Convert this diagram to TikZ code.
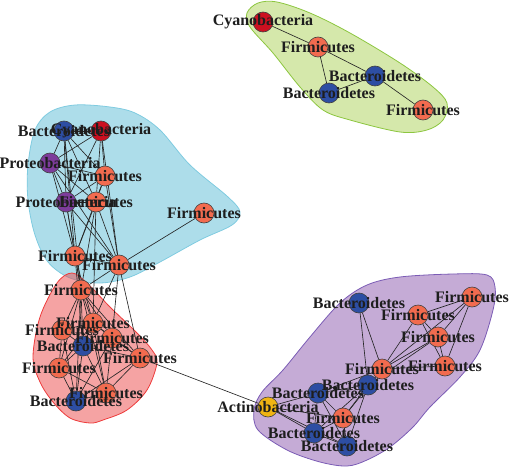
\documentclass[tikz,border=0pt]{standalone}
\usepackage{fontspec}
\setmainfont{Liberation Serif}
\pgfdeclarelayer{hulls}
\pgfdeclarelayer{edges}
\pgfdeclarelayer{labels}
\pgfsetlayers{hulls,edges,main,labels}
\definecolor{firmc}{HTML}{F26B4F}
\definecolor{bactc}{HTML}{2D4EA3}
\definecolor{cyanc}{HTML}{CC1020}
\definecolor{protc}{HTML}{7D3C9B}
\definecolor{actic}{HTML}{F0B413}
\definecolor{hgreen}{HTML}{ACD158}
\definecolor{hgreenb}{HTML}{8CC63F}
\definecolor{hblue}{HTML}{5BBCD6}
\definecolor{hblueb}{HTML}{7FCBE0}
\definecolor{hred}{HTML}{EB4848}
\definecolor{hredb}{HTML}{EE3B3B}
\definecolor{hpurp}{HTML}{8B58AE}
\definecolor{hpurpb}{HTML}{7B5CB5}
\definecolor{labc}{HTML}{1E1E1E}
\begin{document}
\begin{tikzpicture}[x=1pt,y=-1pt,
  vtx/.style={circle, draw=black!75, line width=0.6pt, minimum size=20pt, inner sep=0pt},
  firm/.style={vtx, fill=firmc},
  bact/.style={vtx, fill=bactc},
  cyan/.style={vtx, fill=cyanc},
  prot/.style={vtx, fill=protc},
  acti/.style={vtx, fill=actic},
  edge/.style={draw=black!85, line width=0.65pt},
  hull/.style={line width=0.8pt, fill opacity=0.5},
  lab/.style={font=\bfseries\fontsize{16}{16}\selectfont, text=labc, inner sep=0pt}]
\useasboundingbox (0,0) rectangle (510,468);
% green cluster
\node[cyan] (g1) at (263,22) {};
\node[firm] (g2) at (318,47) {};
\node[bact] (g3) at (375,76) {};
\node[bact] (g4) at (329,93) {};
\node[firm] (g5) at (423,110) {};
% blue cluster
\node[bact] (b1) at (64,131) {};
\node[cyan] (b2) at (101,131) {};
\node[prot] (b3) at (50,163) {};
\node[firm] (b4) at (105,176) {};
\node[prot] (b5) at (66,202) {};
\node[firm] (b6) at (96,202) {};
\node[firm] (b7) at (204,213) {};
\node[firm] (b8) at (75,256) {};
\node[firm] (b9) at (119,265) {};
% red cluster
\node[firm] (r1) at (81,290) {};
\node[firm] (r2) at (93,323) {};
\node[firm] (r3) at (62,330) {};
\node[bact] (r4) at (83,346) {};
\node[firm] (r5) at (112,338) {};
\node[firm] (r6) at (140,358) {};
\node[firm] (r7) at (59,368) {};
\node[bact] (r8) at (76,401) {};
\node[firm] (r9) at (106,393) {};
% purple cluster
\node[bact] (p1) at (359,303) {};
\node[firm] (p2) at (472,297) {};
\node[firm] (p3) at (418,315) {};
\node[firm] (p4) at (438,337) {};
\node[firm] (p5) at (445,366) {};
\node[firm] (p6) at (382,369) {};
\node[bact] (p7) at (368,385) {};
\node[bact] (p8) at (318,393) {};
\node[acti] (p9) at (268,407) {};
\node[firm] (p10) at (343,418) {};
\node[bact] (p11) at (314,433) {};
\node[bact] (p12) at (347,446) {};
\begin{pgfonlayer}{hulls}
\draw[hull, fill=hgreen, draw=hgreenb] plot[smooth cycle, tension=0.55] coordinates {
 (247,13) (258,3) (277,2) (310,13) (350,33) (400,63) (433,87) (447,103) (443,120) (427,130) (400,132) (350,120) (323,110) (300,87) (273,53) (250,27)};
\draw[hull, fill=hblue, draw=hblueb] plot[smooth cycle, tension=0.55] coordinates {
 (28,165) (35,130) (50,112) (75,105) (110,107) (135,113) (160,130) (190,165) (228,197) (240,212) (232,225) (200,240) (160,262) (130,277) (100,283) (70,278) (48,262) (35,235) (28,200)};
\draw[hull, fill=hred, draw=hredb] plot[smooth cycle, tension=0.55] coordinates {
 (72,273) (87,283) (110,307) (137,333) (152,350) (157,363) (147,390) (127,410) (103,420) (90,423) (70,418) (53,402) (40,382) (33,357) (40,317) (57,283)};
\draw[hull, fill=hpurp, draw=hpurpb] plot[smooth cycle, tension=0.55] coordinates {
 (453,274) (487,275) (495,287) (493,310) (480,350) (460,377) (430,407) (413,427) (390,447) (367,460) (347,466) (320,462) (287,450) (258,430) (254,410) (262,392) (283,370) (310,337) (340,303) (367,285) (400,277)};
\end{pgfonlayer}
\begin{pgfonlayer}{edges}
\foreach \a/\b in {g1/g2,g2/g3,g2/g4,g3/g4,g3/g5,
 b1/b2,b1/b3,b1/b4,b1/b5,b1/b6,b1/b8,b1/r1,b2/b3,b2/b4,b2/b5,b2/b6,b2/b9,
 b3/b4,b3/b5,b3/b6,b3/b8,b3/b9,b4/b5,b4/b6,b4/b8,b4/b9,b5/b6,b5/b8,b5/b9,b5/r1,
 b6/b8,b6/b9,b6/r1,b6/r2,b7/b9,b8/b9,b8/r1,b8/r2,b8/r4,b9/r1,b9/r2,b9/r5,b9/r6,
 r1/r2,r1/r3,r1/r4,r1/r5,r1/r6,r1/r7,r1/r8,r1/r9,r2/r3,r2/r4,r2/r5,r2/r6,r2/r7,r2/r9,
 r3/r4,r3/r7,r3/r8,r4/r5,r4/r6,r4/r7,r4/r8,r4/r9,r5/r6,r5/r8,r5/r9,r6/r8,r6/r9,
 r7/r8,r7/r9,r8/r9,r6/p9,
 p1/p6,p1/p7,p3/p2,p3/p4,p3/p5,p3/p6,p2/p4,p2/p5,p2/p6,p4/p5,p4/p6,p4/p7,p5/p6,
 p6/p7,p6/p10,p6/p8,p7/p8,p7/p10,p7/p11,p7/p12,p8/p9,p8/p10,p8/p11,p8/p12,
 p9/p11,p9/p10,p9/p12,p10/p11,p10/p12,p11/p12}
 \draw[edge] (\a) -- (\b);
\end{pgfonlayer}
\begin{pgfonlayer}{labels}
\foreach \n/\t in {g1/Cyanobacteria,g2/Firmicutes,g3/Bacteroidetes,g4/Bacteroidetes,g5/Firmicutes,
 b1/Bacteroidetes,b2/Cyanobacteria,b3/Proteobacteria,b4/Firmicutes,b5/Proteobacteria,b6/Firmicutes,
 b7/Firmicutes,b8/Firmicutes,b9/Firmicutes,
 r1/Firmicutes,r2/Firmicutes,r3/Firmicutes,r4/Bacteroidetes,r5/Firmicutes,r6/Firmicutes,
 r7/Firmicutes,r8/Bacteroidetes,r9/Firmicutes,
 p1/Bacteroidetes,p2/Firmicutes,p3/Firmicutes,p4/Firmicutes,p5/Firmicutes,p6/Firmicutes,
 p7/Bacteroidetes,p8/Bacteroidetes,p9/Actinobacteria,p10/Firmicutes,p11/Bacteroidetes,p12/Bacteroidetes}
 \node[lab] (\n-l) at (\n) {\t};
\end{pgfonlayer}
\end{tikzpicture}
\end{document}
